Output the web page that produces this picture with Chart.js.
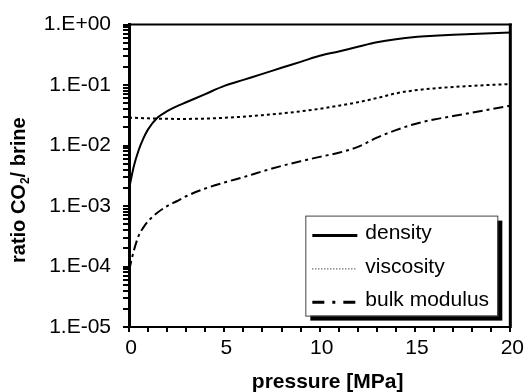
<!DOCTYPE html>
<html>
<head>
<meta charset="utf-8">
<script src="https://cdn.jsdelivr.net/npm/chart.js@4.4.1/dist/chart.umd.min.js"></script>
<style>
  html, body { margin: 0; padding: 0; background: #fff; }
  #chart { display: block; }
</style>
</head>
<body>
<canvas id="chart" width="526" height="392"></canvas>
<script>
// pressure [MPa], shared by the three curves
const pressure = [0, 0.25, 0.5, 0.75, 1, 1.5, 2, 2.5, 3, 4, 5, 6, 7, 8, 9, 10, 11, 12, 13, 14, 15, 16, 17, 18, 19, 20];
// ratio CO2 / brine
const density = [0.0019, 0.0045, 0.0083, 0.013, 0.0185, 0.029, 0.037, 0.0445, 0.052, 0.071, 0.097, 0.122, 0.153, 0.193, 0.242, 0.305, 0.36, 0.43, 0.51, 0.575, 0.625, 0.655, 0.68, 0.7, 0.72, 0.74];
const viscosity = [0.029, 0.0288, 0.0286, 0.0284, 0.0282, 0.0279, 0.0277, 0.0276, 0.0276, 0.0279, 0.0288, 0.03, 0.0318, 0.034, 0.0368, 0.0405, 0.0455, 0.052, 0.061, 0.073, 0.082, 0.088, 0.093, 0.097, 0.101, 0.104];
const bulkModulus = [0.000085, 0.00018, 0.00032, 0.00044, 0.00056, 0.00078, 0.001, 0.0012, 0.00145, 0.00195, 0.00245, 0.003, 0.00375, 0.0046, 0.0055, 0.0065, 0.0076, 0.0095, 0.0135, 0.018, 0.0228, 0.027, 0.0307, 0.035, 0.04, 0.0457];

const seriesNames = ['density', 'viscosity', 'bulk modulus'];
const xTickLabels = ['0', '5', '10', '15', '20'];
const yTickLabels = ['1.E-05', '1.E-04', '1.E-03', '1.E-02', '1.E-01', '1.E+00'];

const FONT = '"Liberation Sans", Arial, sans-serif';

function points(values) {
  return pressure.map((p, i) => ({ x: p, y: values[i] }));
}

// line styles for plot and legend samples
const styles = [
  { dash: [], width: 2, legendDash: [], legendWidth: 3 },
  { dash: [3, 3], width: 2, legendDash: [1, 2], legendWidth: 1 },
  { dash: [10, 4, 3, 4], width: 2, legendDash: [12, 8, 3, 8], legendWidth: 3 }
];

// legend with drop shadow, drawn inside the plot
const legendBox = {
  id: 'legendBox',
  afterDatasetsDraw(chart) {
    const ctx = chart.ctx;
    const a = chart.chartArea;
    const x = a.right - 205, y = a.top + 191, w = 192, h = 100;
    ctx.save();
    ctx.fillStyle = '#000';
    ctx.fillRect(x + 5, y + 5, w, h);
    ctx.fillStyle = '#fff';
    ctx.fillRect(x, y, w, h);
    ctx.strokeStyle = '#444';
    ctx.lineWidth = 1;
    ctx.strokeRect(x + 0.5, y + 0.5, w, h);
    ctx.font = '21px ' + FONT;
    ctx.textBaseline = 'middle';
    ctx.fillStyle = '#000';
    chart.data.datasets.forEach((ds, i) => {
      const ry = y + 20 + i * 33.3;
      ctx.beginPath();
      ctx.setLineDash(styles[i].legendDash);
      ctx.lineWidth = styles[i].legendWidth;
      ctx.strokeStyle = '#000';
      ctx.moveTo(x + 7, ry);
      ctx.lineTo(x + 52, ry);
      ctx.stroke();
      ctx.setLineDash([]);
      ctx.fillText(ds.label, x + 60, ry - 2);
    });
    ctx.restore();
  }
};

// frame on top/right plus the axis titles
const frameAndTitles = {
  id: 'frameAndTitles',
  afterDraw(chart) {
    const ctx = chart.ctx;
    const a = chart.chartArea;
    ctx.save();
    ctx.strokeStyle = '#000';
    ctx.lineWidth = 2;
    ctx.beginPath();
    ctx.moveTo(a.left, a.top);
    ctx.lineTo(a.right + 1.5, a.top);
    ctx.stroke();
    ctx.lineWidth = 3;
    ctx.beginPath();
    ctx.moveTo(a.right, a.top - 1);
    ctx.lineTo(a.right, a.bottom + 1);
    ctx.stroke();

    ctx.fillStyle = '#000';
    // x title
    ctx.font = 'bold 21px ' + FONT;
    ctx.textAlign = 'center';
    ctx.textBaseline = 'alphabetic';
    ctx.fillText('pressure [MPa]', (a.left + a.right) / 2 + 8, 388);

    // y title with subscript 2
    ctx.translate(25, 263);
    ctx.rotate(-Math.PI / 2);
    ctx.textAlign = 'left';
    let cx = 0;
    ctx.font = 'bold 20px ' + FONT;
    ctx.fillText('ratio CO', cx, 0);
    cx += ctx.measureText('ratio CO').width;
    ctx.font = 'bold 12px ' + FONT;
    ctx.fillText('2', cx, 4);
    cx += ctx.measureText('2').width;
    ctx.font = 'bold 20px ' + FONT;
    ctx.fillText('/ brine', cx, 0);
    ctx.restore();
  }
};

new Chart(document.getElementById('chart'), {
  type: 'line',
  data: {
    datasets: [density, viscosity, bulkModulus].map((vals, i) => ({
      label: seriesNames[i],
      data: points(vals),
      borderColor: '#000',
      borderWidth: styles[i].width,
      borderDash: styles[i].dash,
      pointRadius: 0,
      fill: false,
      cubicInterpolationMode: 'monotone'
    }))
  },
  options: {
    responsive: false,
    devicePixelRatio: 1,
    animation: false,
    layout: { padding: { top: 21, right: 15, bottom: 0, left: 0 } },
    plugins: { legend: { display: false }, tooltip: { enabled: false } },
    scales: {
      x: {
        type: 'linear',
        min: 0,
        max: 20,
        afterFit(scale) { scale.height = 65; },
        border: { color: '#000', width: 2 },
        grid: { drawOnChartArea: false, drawTicks: true, tickLength: 5, color: '#000', lineWidth: 2 },
        ticks: {
          stepSize: 1,
          autoSkip: false,
          maxRotation: 0,
          padding: 4,
          labelOffset: 2,
          color: '#000',
          font: { family: FONT, size: 21 },
          callback: v => xTickLabels.includes(String(v)) ? String(v) : ''
        }
      },
      y: {
        type: 'logarithmic',
        min: Number(yTickLabels[0]),
        max: Number(yTickLabels[yTickLabels.length - 1]),
        afterFit(scale) { scale.width = 129; },
        afterBuildTicks(scale) {
          const ticks = [];
          yTickLabels.forEach((lbl, i) => {
            const base = Number(lbl);
            ticks.push({ value: base, major: true });
            if (i < yTickLabels.length - 1) {
              for (let m = 2; m <= 9; m++) ticks.push({ value: base * m, major: false });
            }
          });
          scale.ticks = ticks;
        },
        border: { color: '#000', width: 3 },
        grid: { drawOnChartArea: false, drawTicks: true, tickLength: 6, color: '#000', lineWidth: 2 },
        ticks: {
          autoSkip: false,
          padding: 12,
          color: '#000',
          font: { family: FONT, size: 21 },
          callback: v => {
            const lbl = yTickLabels.find(l => Math.abs(Number(l) - v) < v * 1e-6);
            return lbl || '';
          }
        }
      }
    }
  },
  plugins: [legendBox, frameAndTitles]
});
</script>
</body>
</html>
